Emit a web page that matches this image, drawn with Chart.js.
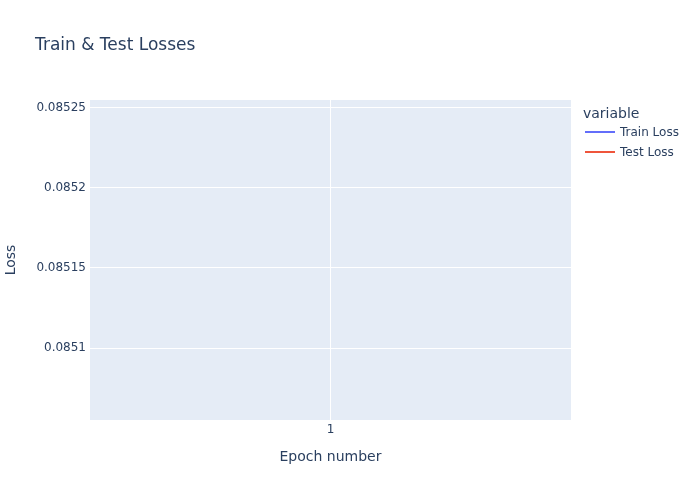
<!DOCTYPE html>
<html>
<head>
<meta charset="utf-8">
<script src="https://cdn.jsdelivr.net/npm/chart.js@4"></script>
<style>
  html, body { margin: 0; padding: 0; background: #fff; }
  #wrap { width: 700px; height: 500px; }
</style>
</head>
<body>
<div id="wrap"><canvas id="c" width="700" height="500"></canvas></div>
<script>
const epochs = ['1'];
const trainLoss = [0.085245];
const testLoss = [0.085065];
const yTicks = [0.0851, 0.08515, 0.0852, 0.08525];
const yMin = 0.0850552;
const yMax = 0.0852547;
const seriesNames = ['Train Loss', 'Test Loss'];
const seriesColors = ['#636efa', '#EF553B'];
const titleText = 'Train & Test Losses';
const legendTitle = 'variable';

const FONT = '"DejaVu Sans", Verdana, sans-serif';
const TXT = '#2a3f5f';

const decor = {
  id: 'decor',
  beforeDraw(chart) {
    const { ctx, chartArea: a } = chart;
    ctx.save();
    ctx.fillStyle = '#E5ECF6';
    ctx.fillRect(a.left, a.top, a.right - a.left, a.bottom - a.top);
    ctx.restore();
  },
  afterDraw(chart) {
    const { ctx } = chart;
    ctx.save();
    ctx.fillStyle = TXT;
    ctx.textBaseline = 'middle';
    ctx.textAlign = 'left';
    ctx.font = '17px ' + FONT;
    ctx.fillText(titleText, 35, 46);
    ctx.font = '14px ' + FONT;
    ctx.fillText(legendTitle, 583, 114);
    ctx.font = '12px ' + FONT;
    chart.data.datasets.forEach((ds, i) => {
      const y = 132 + i * 20;
      ctx.strokeStyle = ds.borderColor;
      ctx.lineWidth = 2;
      ctx.beginPath();
      ctx.moveTo(585, y);
      ctx.lineTo(615, y);
      ctx.stroke();
      ctx.fillStyle = TXT;
      ctx.fillText(ds.label, 620, y + 1);
    });
    ctx.restore();
  }
};

new Chart(document.getElementById('c'), {
  type: 'line',
  data: {
    labels: epochs,
    datasets: [
      { label: seriesNames[0], data: trainLoss, borderColor: seriesColors[0], borderWidth: 2, pointRadius: 0 },
      { label: seriesNames[1], data: testLoss, borderColor: seriesColors[1], borderWidth: 2, pointRadius: 0 }
    ]
  },
  options: {
    responsive: false,
    animation: false,
    layout: { padding: { left: 0, right: 129, top: 100, bottom: 0 } },
    plugins: { legend: { display: false }, tooltip: { enabled: false }, title: { display: false } },
    scales: {
      x: {
        type: 'category',
        offset: true,
        grid: { color: '#ffffff', lineWidth: 1, offset: false, drawTicks: false },
        border: { display: false },
        ticks: { color: TXT, font: { family: FONT, size: 12 }, padding: 3 },
        title: { display: true, text: 'Epoch number', color: TXT, font: { family: FONT, size: 14 }, padding: { top: 0, bottom: 34 } },
        afterFit(s) { s.height = 80; }
      },
      y: {
        min: yMin,
        max: yMax,
        grid: { color: '#ffffff', lineWidth: 1, drawTicks: false },
        border: { display: false },
        afterBuildTicks(s) { s.ticks = yTicks.map(v => ({ value: v })); },
        ticks: {
          color: TXT, font: { family: FONT, size: 12 }, padding: 4,
          callback: v => String(Number(v.toFixed(6)))
        },
        title: { display: true, text: 'Loss', color: TXT, font: { family: FONT, size: 14 }, padding: { top: 3, bottom: 0 } },
        afterFit(s) { s.width = 90; }
      }
    }
  },
  plugins: [decor]
});
</script>
</body>
</html>
